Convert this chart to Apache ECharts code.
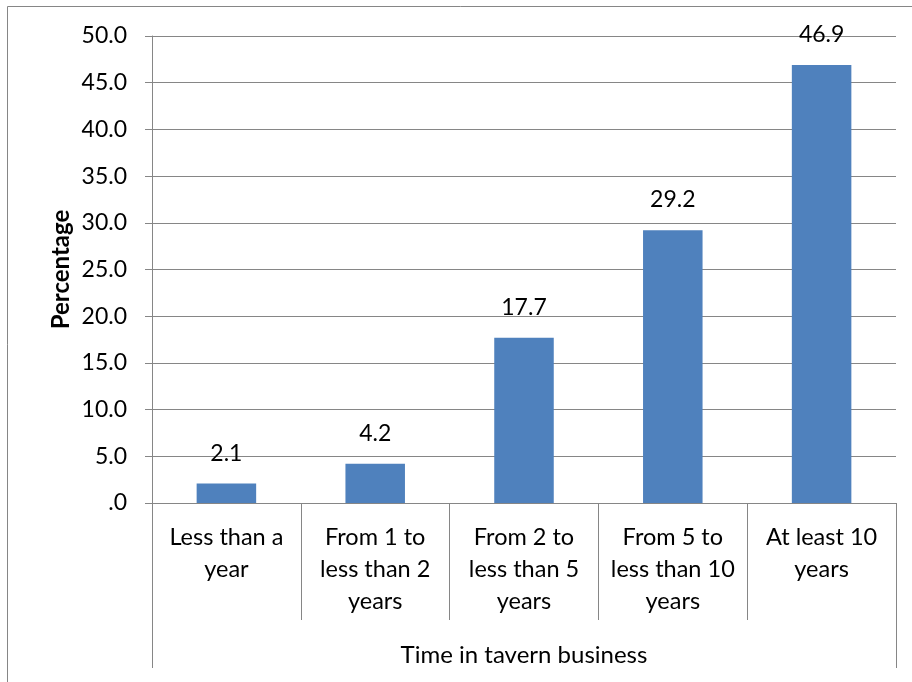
<html>
<head>
    <script src="https://cdnjs.cloudflare.com/ajax/libs/echarts/6.0.0/echarts.min.js"></script>
</head>
<body style="margin:0">
    <div id="main" style="width: 912px;height:682px;"></div>
    <script>
        // data
        var categories = ['Less than a\nyear', 'From 1 to\nless than 2\nyears', 'From 2 to\nless than 5\nyears', 'From 5 to\nless than 10\nyears', 'At least 10\nyears'];
        var percentages = [2.1, 4.2, 17.7, 29.2, 46.9];
        var groupLabel = ['Time in tavern business'];

        var font = 'Lato';
        var grey = '#868686';

        var myChart = echarts.init(document.getElementById('main'));
        var option = {
            animation: false,
            backgroundColor: '#fff',
            graphic: [{
                type: 'rect',
                shape: { x: 7.5, y: 6.5, width: 1000, height: 1000 },
                style: { fill: 'none', stroke: grey, lineWidth: 1 }
            }],
            grid: { left: 152, right: 16, top: 36, bottom: 179 },
            xAxis: [{
                type: 'category',
                data: categories,
                axisLine: { lineStyle: { color: grey, width: 1 } },
                axisTick: { show: true, length: 117, lineStyle: { color: grey } },
                axisLabel: {
                    interval: 0, margin: 18, color: '#000',
                    fontFamily: font, fontSize: 23.5, lineHeight: 32
                }
            }, {
                type: 'category',
                data: groupLabel,
                position: 'bottom',
                axisLine: { show: false },
                axisTick: { show: true, length: 165, lineStyle: { color: grey } },
                axisLabel: { margin: 134, color: '#000', fontFamily: font, fontSize: 24 }
            }],
            yAxis: {
                type: 'value',
                min: 0, max: 50, interval: 5,
                name: 'Percentage',
                nameLocation: 'middle',
                nameGap: 72,
                nameMoveOverlap: false,
                nameTextStyle: { fontFamily: font, fontSize: 24, fontWeight: 'bold', color: '#000' },
                axisLine: { show: true, lineStyle: { color: grey } },
                axisTick: { show: true, length: 7, lineStyle: { color: grey } },
                splitLine: { lineStyle: { color: grey, width: 1 } },
                axisLabel: {
                    margin: 25, color: '#000', fontFamily: font, fontSize: 23,
                    formatter: function (v) { return v === 0 ? '.0' : v.toFixed(1); }
                }
            },
            series: [{
                type: 'bar',
                data: percentages,
                barWidth: '40%',
                itemStyle: { color: '#4F81BD' },
                label: {
                    show: true, position: 'top', distance: 13,
                    color: '#000', fontFamily: font, fontSize: 23,
                    formatter: function (p) { return p.value.toFixed(1); }
                }
            }]
        };
        myChart.setOption(option);
    </script>
</body>
</html>
